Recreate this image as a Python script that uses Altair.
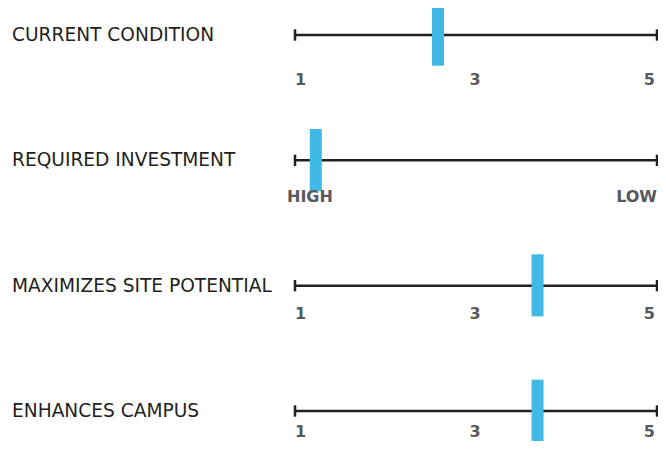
import altair as alt
import pandas as pd

# --- data ---
criteria = ["CURRENT CONDITION", "REQUIRED INVESTMENT", "MAXIMIZES SITE POTENTIAL", "ENHANCES CAMPUS"]
scores = [2.58, 1.23, 3.68, 3.68]
scale_min = 1
scale_max = 5

tick_rows = [0, 0, 0, 1, 1, 2, 2, 2, 3, 3, 3]
tick_values = [1, 3, 5, 1, 5, 1, 3, 5, 1, 3, 5]
tick_texts = ["1", "3", "5", "HIGH", "LOW", "1", "3", "5", "1", "3", "5"]
tick_anchor = ["start", "mid", "end", "wstart", "wend", "start", "mid", "end", "start", "mid", "end"]

rows = list(range(len(criteria)))
df = pd.DataFrame({"row": rows, "criterion": criteria, "score": scores,
                   "lo": [scale_min] * len(rows), "hi": [scale_max] * len(rows)})
ticks = pd.DataFrame({"row": tick_rows, "value": tick_values, "text": tick_texts, "anchor": tick_anchor})

FONT = "DejaVu Sans"
X = alt.Scale(domain=[scale_min, scale_max], range=[287, 649], nice=False, zero=False)
Y = alt.Scale(domain=[0, 3], range=[27, 403], nice=False, zero=False)

base = alt.Chart(df)

line = base.mark_rule(strokeWidth=2.5, color="#231f20").encode(
    x=alt.X("lo:Q", scale=X, axis=None),
    x2="hi:Q",
    y=alt.Y("row:Q", scale=Y, axis=None),
)

caps_l = base.transform_calculate(c0="datum.row - 0.045", c1="datum.row + 0.045").mark_rule(
    strokeWidth=2.5, color="#231f20").encode(
    x=alt.X("lo:Q", scale=X, axis=None),
    y=alt.Y("c0:Q", scale=Y, axis=None), y2="c1:Q")
caps_r = base.transform_calculate(c0="datum.row - 0.045", c1="datum.row + 0.045").mark_rule(
    strokeWidth=2.5, color="#231f20").encode(
    x=alt.X("hi:Q", scale=X, axis=None),
    y=alt.Y("c0:Q", scale=Y, axis=None), y2="c1:Q")

marker = base.transform_calculate(m0="datum.row - 0.25", m1="datum.row + 0.245").mark_rule(
    strokeWidth=12, color="#40b9e7", strokeCap="butt").encode(
    x=alt.X("score:Q", scale=X, axis=None),
    y=alt.Y("m0:Q", scale=Y, axis=None), y2="m1:Q")

labels = base.mark_text(align="left", baseline="middle", fontSize=18.6, font=FONT,
                        color="#231f20").encode(
    x=alt.value(4),
    y=alt.Y("row:Q", scale=Y, axis=None),
    text="criterion:N")

tb = alt.Chart(ticks).transform_calculate(ty="datum.row + 0.358 - 0.064 * datum.row")


def tick_layer(anchor, align, dx):
    return tb.transform_filter(alt.datum.anchor == anchor).mark_text(
        align=align, baseline="middle", fontSize=16, font=FONT, fontWeight="bold",
        color="#58595b", dx=dx).encode(
        x=alt.X("value:Q", scale=X, axis=None),
        y=alt.Y("ty:Q", scale=Y, axis=None),
        text="text:N")


tick_text = alt.layer(
    tick_layer("start", "left", 0),
    tick_layer("mid", "center", -1),
    tick_layer("end", "right", -2),
    tick_layer("wstart", "left", -8),
    tick_layer("wend", "right", 0),
)

chart = alt.layer(line, caps_l, caps_r, marker, labels, tick_text).properties(
    width=650, height=433, autosize="none", padding=0
).configure_view(stroke=None)

chart.save("out.html", embed_options={"renderer": "svg", "actions": False})
